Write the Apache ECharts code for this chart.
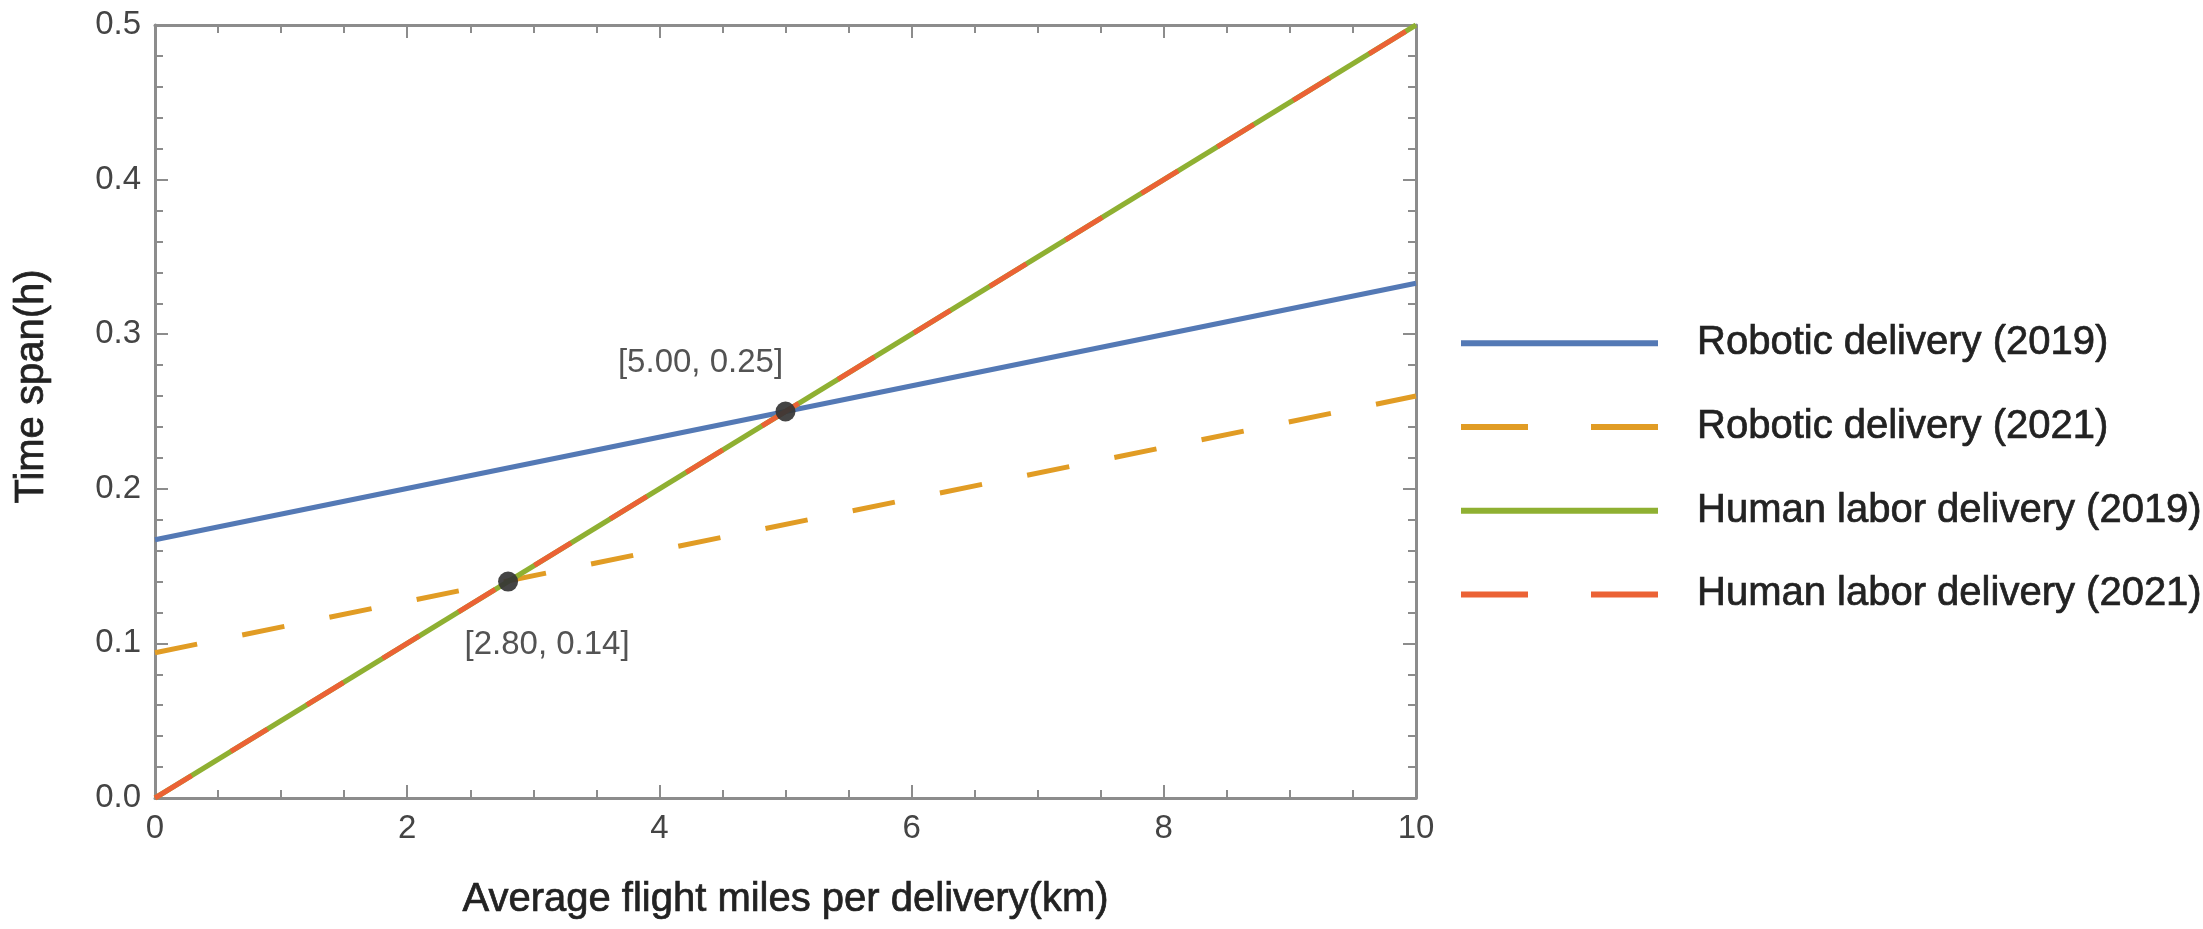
<!DOCTYPE html>
<html>
<head>
<meta charset="utf-8">
<script src="https://cdn.jsdelivr.net/npm/echarts@6/dist/echarts.min.js"></script>
<style>
  html, body { margin: 0; padding: 0; background: #fff; }
  #chart { width: 2203px; height: 929px; }
</style>
</head>
<body>
<div id="chart"></div>
<script>
// x range of the lines (km)
const xEnds = [0, 10];
// y values at x = 0 and x = 10 (h)
const robotic2019 = [0.167, 0.333];
const robotic2021 = [0.094, 0.26];
const human2019 = [0, 0.5];
const human2021 = [0, 0.5];
// marked intersection points
const crossX = [2.8, 5.0];
const crossY = [0.14, 0.25];
const seriesNames = [
  'Robotic delivery (2019)',
  'Robotic delivery (2021)',
  'Human labor delivery (2019)',
  'Human labor delivery (2021)'
];

const plain = "Liberation Sans, Arial, sans-serif";

// legend swatches: solid bar / two dashes
const solidIcon = 'path://M0,0H197V6H0Z';
const dashIcon = 'path://M0,0H67V6H0Z M130,0H197V6H130Z';

function pairs(ys) {
  return xEnds.map((x, i) => [x, ys[i]]);
}

const chart = echarts.init(document.getElementById('chart'));

const frameLine = { show: true, onZero: false, lineStyle: { color: '#8c8c8c', width: 3 } };
const tick = { show: true, inside: true, length: 13, lineStyle: { color: '#8c8c8c', width: 2 } };
const minor = (n) => ({ show: true, splitNumber: n, length: 8, lineStyle: { color: '#8c8c8c', width: 2 } });
const tickLabel = { color: '#444', fontSize: 33, fontFamily: plain };
const titleText = {
  color: '#222', fontSize: 40, fontFamily: plain,
  textBorderColor: '#222', textBorderWidth: 0.7
};

const option = {
  animation: false,
  backgroundColor: '#fff',
  grid: { left: 155, right: 787, top: 25, bottom: 131, containLabel: false },
  xAxis: [
    {
      type: 'value', min: 0, max: 10, interval: 2, position: 'bottom',
      name: 'Average flight miles per delivery(km)',
      nameLocation: 'middle', nameGap: 82, nameTextStyle: titleText,
      axisLine: frameLine, axisTick: tick, minorTick: minor(4),
      splitLine: { show: false },
      axisLabel: Object.assign({ margin: 14 }, tickLabel)
    },
    {
      type: 'value', min: 0, max: 10, interval: 2, position: 'top',
      axisLine: frameLine, axisTick: tick, minorTick: minor(4),
      splitLine: { show: false }, axisLabel: { show: false }
    }
  ],
  yAxis: [
    {
      type: 'value', min: 0, max: 0.5, interval: 0.1, position: 'left',
      name: 'Time span(h)',
      nameLocation: 'middle', nameRotate: 90, nameGap: 103,
      nameTextStyle: Object.assign({ padding: [0, 0, 0, 50] }, titleText),
      axisLine: frameLine, axisTick: tick, minorTick: minor(5),
      splitLine: { show: false },
      axisLabel: Object.assign({ margin: 14, formatter: v => v.toFixed(1) }, tickLabel)
    },
    {
      type: 'value', min: 0, max: 0.5, interval: 0.1, position: 'right',
      axisLine: frameLine, axisTick: tick, minorTick: minor(5),
      splitLine: { show: false }, axisLabel: { show: false }
    }
  ],
  legend: {
    orient: 'vertical',
    left: 1461,
    top: 323,
    padding: 0,
    itemWidth: 197,
    itemHeight: 6,
    itemGap: 43,
    selectedMode: false,
    textStyle: {
      color: '#222', fontSize: 40, fontFamily: plain, lineHeight: 40,
      textBorderColor: '#222', textBorderWidth: 0.7, padding: [0, 0, 0, 34]
    },
    data: [
      { name: seriesNames[0], icon: solidIcon },
      { name: seriesNames[1], icon: dashIcon },
      { name: seriesNames[2], icon: solidIcon },
      { name: seriesNames[3], icon: dashIcon }
    ]
  },
  series: [
    {
      name: seriesNames[0], type: 'line', data: pairs(robotic2019),
      symbol: 'none', color: '#5479b5',
      lineStyle: { width: 5, color: '#5479b5' }
    },
    {
      name: seriesNames[1], type: 'line', data: pairs(robotic2021),
      symbol: 'none', color: '#e19c24',
      lineStyle: { width: 5, color: '#e19c24', type: [43, 46] }
    },
    {
      name: seriesNames[2], type: 'line', data: pairs(human2019),
      symbol: 'none', color: '#8fb032',
      lineStyle: { width: 5, color: '#8fb032' }
    },
    {
      name: seriesNames[3], type: 'line', data: pairs(human2021),
      symbol: 'none', color: '#eb6235',
      lineStyle: { width: 5, color: '#eb6235', type: [43, 46] }
    },
    {
      type: 'scatter', symbolSize: 20, z: 5,
      itemStyle: { color: '#353535', opacity: 0.92 },
      label: {
        show: true, position: 'inside', color: '#444',
        fontSize: 33, fontFamily: plain,
        formatter: p => '[' + p.value[0].toFixed(2) + ', ' + p.value[1].toFixed(2) + ']'
      },
      data: crossX.map((x, i) => ({
        value: [x, crossY[i]],
        label: { offset: i === 0 ? [39, 63] : [-85, -49] }
      }))
    }
  ]
};

chart.setOption(option);
</script>
</body>
</html>
